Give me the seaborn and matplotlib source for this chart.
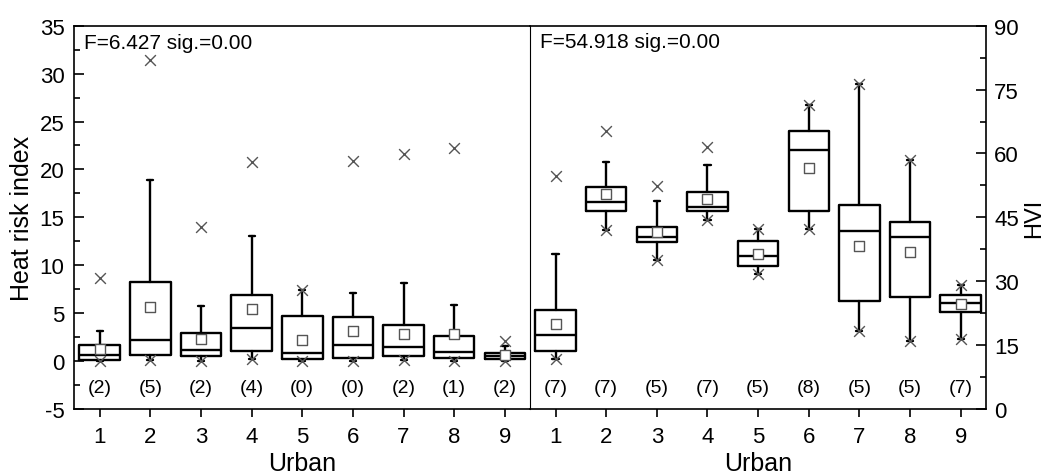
import numpy as np
import pandas as pd
import matplotlib
matplotlib.use("Agg")
import matplotlib.pyplot as plt
from matplotlib.ticker import MultipleLocator
import seaborn as sns

# ---------------- data ----------------
urban = [1, 2, 3, 4, 5, 6, 7, 8, 9]

# Left panel: Heat risk index
hri_whislo = [0.05, 0.1, 0.05, 0.17, 0.05, 0.05, 0.1, 0.05, 0.05]
hri_q1     = [0.10, 0.66, 0.52, 1.01, 0.17, 0.28, 0.52, 0.35, 0.24]
hri_med    = [0.63, 2.20, 1.19, 3.45, 0.87, 1.64, 1.46, 0.98, 0.52]
hri_q3     = [1.64, 8.27, 2.93, 6.94, 4.71, 4.60, 3.77, 2.58, 0.80]
hri_whishi = [3.14, 18.85, 5.72, 13.03, 7.39, 7.08, 8.16, 5.89, 1.57]
hri_mean   = [1.22, 5.65, 2.34, 5.44, 2.16, 3.10, 2.86, 2.79, 0.63]
hri_max    = [8.72, 31.39, 14.0, 20.77, 7.39, 20.87, 21.57, 22.23, 2.09]
hri_min    = [0.0, 0.1, 0.0, 0.17, 0.0, 0.0, 0.1, 0.0, 0.0]
hri_n      = [2, 5, 2, 4, 0, 0, 2, 1, 2]

# Right panel: HVI
hvi_whislo = [11.63, 42.0, 35.04, 44.37, 31.74, 42.16, 18.38, 15.87, 16.5]
hvi_q1     = [13.67, 46.41, 39.12, 46.49, 33.62, 46.57, 25.29, 26.32, 22.78]
hvi_med    = [17.28, 48.62, 40.35, 47.36, 35.98, 60.89, 41.77, 40.28, 24.90]
hvi_q3     = [23.33, 52.08, 42.64, 50.90, 39.51, 65.30, 48.00, 43.82, 26.87]
hvi_whishi = [36.37, 57.90, 48.77, 57.35, 42.16, 71.27, 76.39, 58.53, 29.07]
hvi_mean   = [20.03, 50.42, 41.46, 49.24, 36.29, 56.64, 38.18, 36.92, 24.59]
hvi_max    = [54.6, 65.22, 52.39, 61.44, 42.16, 71.27, 76.39, 58.53, 29.07]
hvi_min    = [11.63, 42.0, 35.04, 44.37, 31.74, 42.16, 18.38, 15.87, 16.5]
hvi_n      = [7, 7, 5, 7, 5, 8, 5, 5, 7]

left_note = "F=6.427 sig.=0.00"
right_note = "F=54.918 sig.=0.00"

# ---------------- style ----------------
sns.set_style("ticks")
plt.rcParams['font.family'] = ['Liberation Sans', 'DejaVu Sans']
plt.rcParams['axes.unicode_minus'] = False
for key in ['text.color', 'axes.labelcolor', 'xtick.color', 'ytick.color',
            'axes.edgecolor']:
    plt.rcParams[key] = 'black'

fig = plt.figure(figsize=(10.52, 4.77), dpi=100)
ax1 = fig.add_axes([0.0706, 0.1405, 0.4334, 0.8035])
ax2 = fig.add_axes([0.5040, 0.1405, 0.4333, 0.8035])

LW = 1.7
gray = '#555555'


def draw_panel(ax, whislo, q1, med, q3, whishi, mean, vmax, vmin, n, ylab_y):
    stats = []
    for i in range(len(urban)):
        stats.append(dict(whislo=whislo[i], q1=q1[i], med=med[i], q3=q3[i],
                          whishi=whishi[i], fliers=[]))
    ax.bxp(stats, positions=urban, widths=0.8, showfliers=False,
           capwidths=0.12,
           boxprops=dict(color='black', lw=LW),
           whiskerprops=dict(color='black', lw=LW),
           capprops=dict(color='black', lw=LW),
           medianprops=dict(color='black', lw=LW))
    df = pd.DataFrame({'urban': urban, 'mean': mean, 'max': vmax, 'min': vmin})
    sns.scatterplot(data=df, x='urban', y='max', marker='x', s=60,
                    color=gray, linewidth=1.0, ax=ax, zorder=4)
    sns.scatterplot(data=df, x='urban', y='min', marker='x', s=60,
                    color=gray, linewidth=1.0, ax=ax, zorder=4)
    sns.scatterplot(data=df, x='urban', y='mean', marker='s', s=42,
                    facecolor='white', edgecolor=gray, linewidth=1.0,
                    ax=ax, zorder=5)
    for xi, ni in zip(urban, n):
        ax.text(xi, ylab_y, f"({ni})", ha='center', va='center', fontsize=14)
    ax.set_xlim(0.5, 9.5)
    ax.set_xticks(urban)
    ax.set_xticklabels([str(u) for u in urban])
    ax.set_xlabel('Urban', fontsize=18, labelpad=3)
    ax.tick_params(axis='x', direction='out', length=6, width=1.2,
                   labelsize=16, pad=6)
    for s in ax.spines.values():
        s.set_linewidth(1.2)


draw_panel(ax1, hri_whislo, hri_q1, hri_med, hri_q3, hri_whishi, hri_mean,
           hri_max, hri_min, hri_n, -2.75)
draw_panel(ax2, hvi_whislo, hvi_q1, hvi_med, hvi_q3, hvi_whishi, hvi_mean,
           hvi_max, hvi_min, hvi_n, 5.1)

# left axis
ax1.set_ylim(-5, 35)
ax1.yaxis.set_major_locator(MultipleLocator(5))
ax1.yaxis.set_minor_locator(MultipleLocator(2.5))
ax1.tick_params(axis='y', which='major', direction='in', length=7, width=1.2,
                labelsize=16, pad=7, left=True, right=False)
ax1.tick_params(axis='y', which='minor', direction='in', length=4, width=1.2,
                left=True, right=False)
ax1.set_ylabel('Heat risk index', fontsize=18, labelpad=4)
ax1.spines['right'].set_visible(False)

# right axis
ax2.set_ylim(0, 90)
ax2.yaxis.set_major_locator(MultipleLocator(15))
ax2.yaxis.set_minor_locator(MultipleLocator(7.5))
ax2.yaxis.tick_right()
ax2.yaxis.set_label_position('right')
ax2.tick_params(axis='y', which='major', direction='in', length=7, width=1.2,
                labelsize=16, pad=6, left=False, right=True)
ax2.tick_params(axis='y', which='minor', direction='in', length=4, width=1.2,
                left=False, right=True)
ax2.set_ylabel('HVI', fontsize=17, rotation=90, labelpad=3)
ax2.spines['left'].set_linewidth(0.8)

ax1.text(0.022, 0.956, left_note, transform=ax1.transAxes, ha='left',
         va='center', fontsize=15)
ax2.text(0.022, 0.958, right_note, transform=ax2.transAxes, ha='left',
         va='center', fontsize=15)

fig.savefig('out.png', dpi=100)
